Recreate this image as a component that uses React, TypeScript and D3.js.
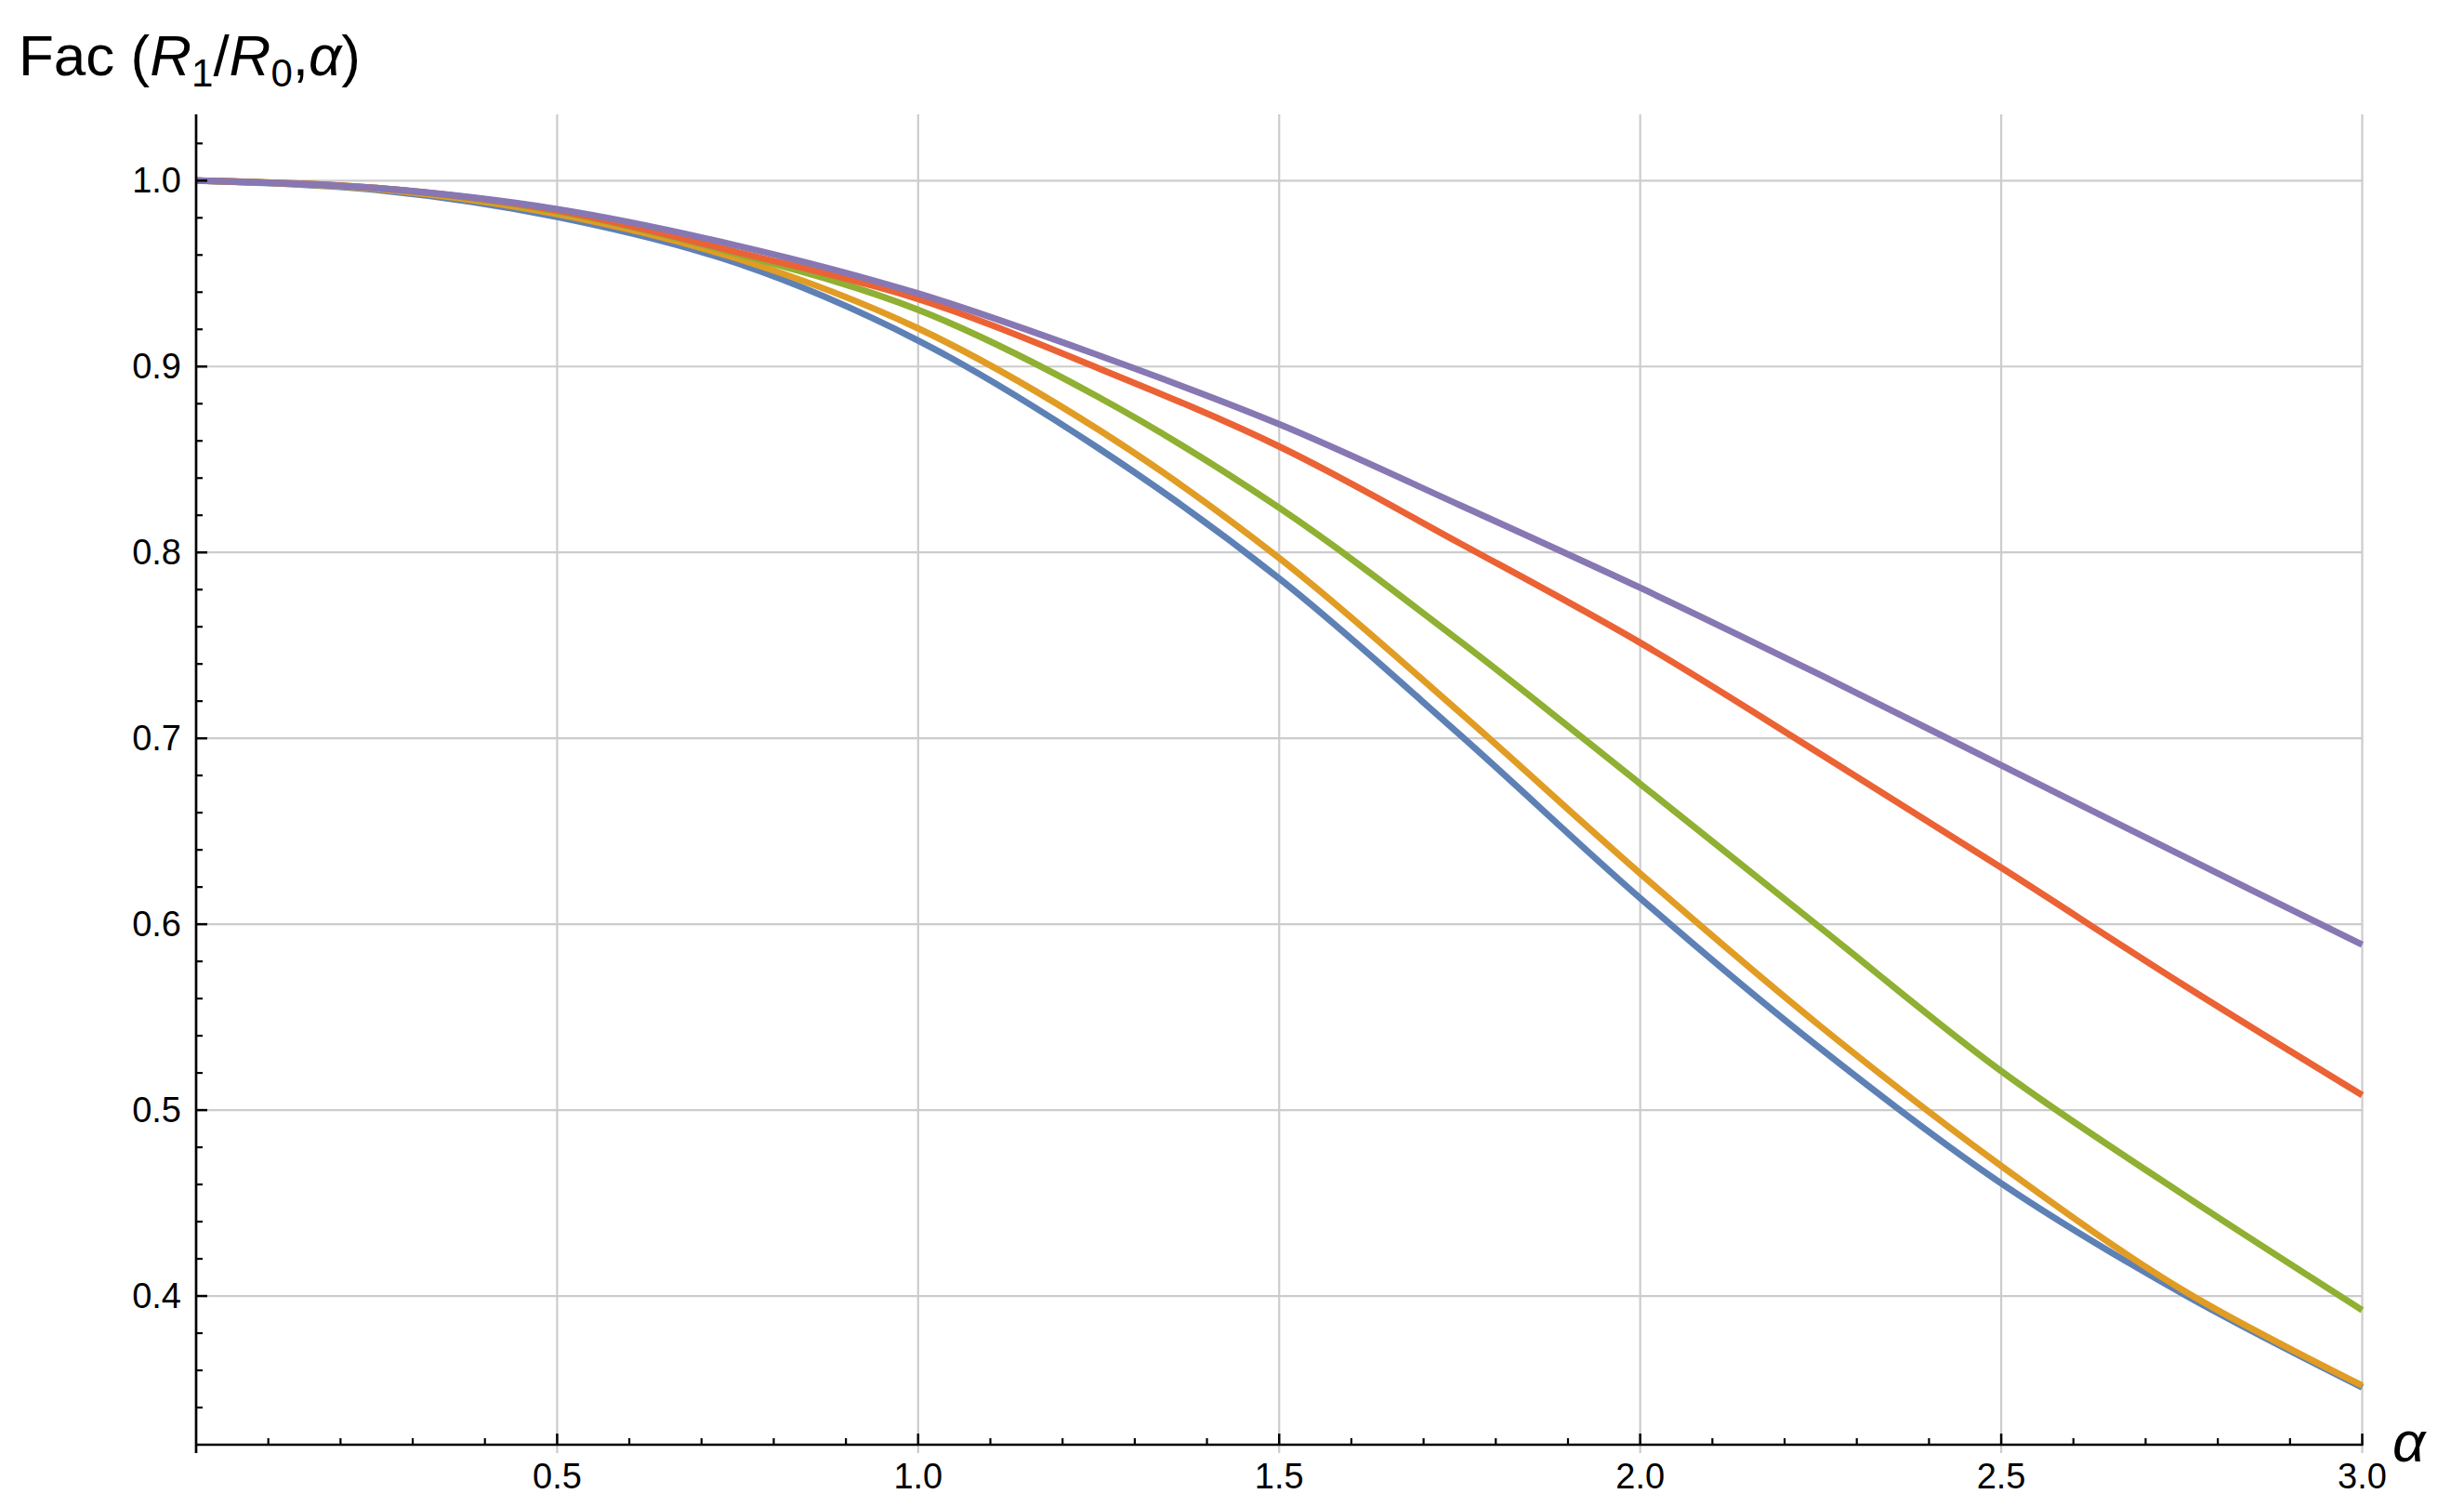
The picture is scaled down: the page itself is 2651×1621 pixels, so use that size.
import React from "react";
import * as d3 from "d3";

const alphaValues = [0, 0.25, 0.5, 0.75, 1, 1.25, 1.5, 1.75, 2, 2.25, 2.5, 2.75, 3];
const blueSeries = [1, 0.995, 0.9805, 0.9555, 0.914, 0.856, 0.786, 0.702, 0.614, 0.533, 0.4606, 0.4015, 0.3508];
const orangeSeries = [1, 0.9955, 0.982, 0.958, 0.9205, 0.866, 0.797, 0.714, 0.6273, 0.545, 0.47, 0.4035, 0.3518];
const greenSeries = [1, 0.996, 0.9835, 0.9605, 0.9305, 0.8835, 0.824, 0.7523, 0.6755, 0.598, 0.521, 0.4551, 0.3924];
const redSeries = [1, 0.996, 0.984, 0.9615, 0.9363, 0.899, 0.857, 0.805, 0.7514, 0.6915, 0.6304, 0.5679, 0.508];
const purpleSeries = [1, 0.996, 0.9847, 0.965, 0.9393, 0.906, 0.869, 0.8255, 0.781, 0.734, 0.6855, 0.637, 0.589];

const seriesList = [blueSeries, orangeSeries, greenSeries, redSeries, purpleSeries];
const seriesColors = ["#5E81B5", "#E19C24", "#8FB032", "#EB6235", "#8778B3"];

const xMajorTicks = [0.5, 1.0, 1.5, 2.0, 2.5, 3.0];
const yMajorTicks = [0.4, 0.5, 0.6, 0.7, 0.8, 0.9, 1.0];

const W = 2651;
const H = 1621;
const FONT = "'Liberation Sans', Arial, Helvetica, sans-serif";

export default function App() {
  const x = d3.scaleLinear().domain([0, 3]).range([211, 2541.5]);
  const y = d3.scaleLinear().domain([0.32, 1.0]).range([1554, 194.3]);
  const yTop = 1.0357;
  const yBottom = 0.3155;
  const xAxisY = y(0.32);
  const yAxisX = x(0);

  const xMinor = d3.range(1, 31).map((i) => i / 10).filter((v) => Math.abs(v * 2 - Math.round(v * 2)) > 1e-6);
  const yMinor = d3
    .range(17, 52)
    .map((i) => i / 50)
    .filter((v) => v > 0.33 && v < yTop && Math.abs(v * 10 - Math.round(v * 10)) > 1e-6);

  const line = d3
    .line<number>()
    .x((_, i) => x(alphaValues[i]))
    .y((d) => y(d))
    .curve(d3.curveCatmullRom.alpha(0.5));

  return (
    <svg width={W} height={H} style={{ position: "absolute", left: 0, top: 0, background: "#fff" }}>
      <rect x={0} y={0} width={W} height={H} fill="#fff" />
      {xMajorTicks.map((t) => (
        <line key={"gx" + t} x1={x(t)} x2={x(t)} y1={y(yTop)} y2={y(yBottom)} stroke="#cccccc" strokeWidth={2.2} />
      ))}
      {yMajorTicks.map((t) => (
        <line key={"gy" + t} x1={yAxisX} x2={x(3)} y1={y(t)} y2={y(t)} stroke="#cccccc" strokeWidth={2.2} />
      ))}
      {seriesList.map((s, i) => (
        <path key={"s" + i} d={line(s) || ""} fill="none" stroke={seriesColors[i]} strokeWidth={7} strokeLinejoin="round" />
      ))}
      <line x1={yAxisX} x2={yAxisX} y1={y(yTop)} y2={y(yBottom)} stroke="#000" strokeWidth={2.7} />
      <line x1={yAxisX} x2={x(3) + 1} y1={xAxisY} y2={xAxisY} stroke="#000" strokeWidth={2.7} />
      {xMajorTicks.map((t) => (
        <line key={"xt" + t} x1={x(t)} x2={x(t)} y1={xAxisY} y2={xAxisY - 12} stroke="#000" strokeWidth={2.5} />
      ))}
      {xMinor.map((t) => (
        <line key={"xm" + t} x1={x(t)} x2={x(t)} y1={xAxisY} y2={xAxisY - 7} stroke="#000" strokeWidth={2.2} />
      ))}
      {yMajorTicks.map((t) => (
        <line key={"yt" + t} x1={yAxisX} x2={yAxisX + 12} y1={y(t)} y2={y(t)} stroke="#000" strokeWidth={2.5} />
      ))}
      {yMinor.map((t) => (
        <line key={"ym" + t} x1={yAxisX} x2={yAxisX + 7} y1={y(t)} y2={y(t)} stroke="#000" strokeWidth={2.2} />
      ))}
      {xMajorTicks.map((t) => (
        <text key={"xl" + t} x={x(t)} y={xAxisY + 47} textAnchor="middle" fontFamily={FONT} fontSize={38} fill="#000">
          {t.toFixed(1)}
        </text>
      ))}
      {yMajorTicks.map((t) => (
        <text key={"yl" + t} x={yAxisX - 16} y={y(t) + 13} textAnchor="end" fontFamily={FONT} fontSize={38} fill="#000">
          {t.toFixed(1)}
        </text>
      ))}
      <text x={2574} y={1572} fontFamily={FONT} fontSize={62} fontStyle="italic" fill="#000">
        α
      </text>
      <text x={20} y={81} fontFamily={FONT} fontSize={62} fill="#000">
        <tspan>Fac (</tspan>
        <tspan fontStyle="italic">R</tspan>
        <tspan fontSize={42} dy={12}>1</tspan>
        <tspan dy={-12}>/</tspan>
        <tspan fontStyle="italic">R</tspan>
        <tspan fontSize={42} dy={12}>0</tspan>
        <tspan dy={-12}>,</tspan>
        <tspan fontStyle="italic">α</tspan>
        <tspan>)</tspan>
      </text>
    </svg>
  );
}
